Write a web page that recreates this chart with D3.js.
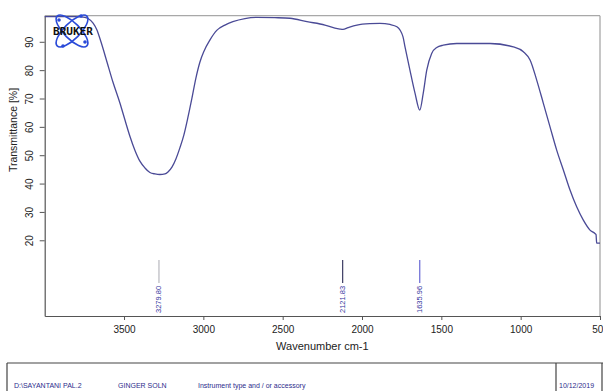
<!DOCTYPE html>
<html>
<head>
<meta charset="utf-8">
<script src="https://cdn.jsdelivr.net/npm/d3@7"></script>
<style>
  html, body { margin: 0; padding: 0; background: #fff; }
  svg { display: block; font-family: "Liberation Sans", Arial, sans-serif; }
</style>
</head>
<body>
<svg id="chart" width="603" height="391"></svg>
<script>
// ---- data ----
const wavenumbers = [4000,3903,3809,3758,3727,3695,3670,3645,3607,3570,3526,3494,3463,3431,3400,3368,3337,3305,3274,3242,3223,3198,3173,3148,3123,3097,3072,3047,3022,2996,2959,2914,2864,2814,2738,2663,2549,2454,2347,2234,2171,2139,2120,2088,2032,1950,1887,1824,1780,1742,1729,1698,1666,1636,1614,1592,1561,1529,1488,1403,1193,1046,983,940,899,857,815,773,731,689,647,605,563,532,525,521,500];
const transmittance = [98.9,98.9,98.9,98.7,98.2,96.6,94.1,89.9,82.8,75.8,68.4,62.4,56.7,51.7,47.9,45.5,43.9,43.4,43.2,43.4,44.1,45.8,48.7,52.6,57.1,63.4,70.1,77.2,82.8,86.7,90.6,94.1,95.9,97.1,98.2,98.6,98.5,98.3,97.1,95.9,94.8,94.5,94.4,95.0,95.9,96.4,96.5,96.1,95.3,91.8,88.2,80.0,71.9,65.9,71.9,80.0,85.9,88.0,88.8,89.4,89.4,88.2,86.5,83.5,76.5,68.3,60.0,51.8,44.8,37.7,31.8,27.1,23.6,22.4,22.0,19.0,19.0];
const xTicks = [3500,3000,2500,2000,1500,1000,500];
const yTicks = [20,30,40,50,60,70,80,90];
const peakPositions = [3279.80, 2121.83, 1635.96];
const peakLabels = ["3279.80", "2121.83", "1635.96"];
const peakLineColors = ["#b0b0b8", "#2a2a55", "#5a5ad0"];
const xDomain = [4000, 500];
const yDomain = [-6.7, 99.2];
const footerTexts = ["D:\\SAYANTANI PAL.2", "GINGER SOLN", "Instrument type and / or accessory", "10/12/2019"];

// ---- layout ----
const svg = d3.select("#chart");
const plot = { left: 44.7, right: 600, top: 15.7, bottom: 316 };
const x = d3.scaleLinear().domain(xDomain).range([plot.left, plot.right]);
const y = d3.scaleLinear().domain(yDomain).range([plot.bottom, plot.top]);

// frame: top & right light gray
svg.append("line").attr("x1", plot.left).attr("x2", plot.right).attr("y1", plot.top).attr("y2", plot.top)
  .attr("stroke", "#a8a8a8").attr("stroke-width", 1.3);
svg.append("line").attr("x1", plot.right).attr("x2", plot.right).attr("y1", plot.top).attr("y2", plot.bottom)
  .attr("stroke", "#a8a8a8").attr("stroke-width", 1.3);

// x axis
const xAxis = d3.axisBottom(x).tickValues(xTicks).tickSize(4).tickSizeOuter(0).tickPadding(6).tickFormat(d3.format("d"));
const gx = svg.append("g").attr("transform", `translate(0,${plot.bottom})`).call(xAxis);
gx.select(".domain").attr("stroke", "#555").attr("stroke-width", 1.2);
gx.selectAll(".tick line").attr("stroke", "#555");
gx.selectAll(".tick text").attr("font-size", 10).attr("fill", "#222")
  .attr("font-family", "Liberation Sans, Arial, sans-serif");

// y axis
const yAxis = d3.axisLeft(y).tickValues(yTicks).tickSize(5).tickSizeOuter(0).tickFormat(d3.format("d"));
const gy = svg.append("g").attr("transform", `translate(${plot.left},0)`).call(yAxis);
gy.select(".domain").attr("stroke", "#555").attr("stroke-width", 1.2);
gy.selectAll(".tick line").attr("stroke", "#555");
gy.selectAll(".tick text")
  .attr("font-size", 10).attr("fill", "#222")
  .attr("font-family", "Liberation Sans, Arial, sans-serif")
  .attr("x", 0).attr("dy", null)
  .attr("text-anchor", "middle")
  .attr("dominant-baseline", "central")
  .attr("transform", "translate(-15,0) rotate(-90)");

// axis titles
svg.append("text").attr("x", (plot.left + plot.right) / 2).attr("y", 350)
  .attr("text-anchor", "middle").attr("font-size", 11).attr("fill", "#222")
  .text("Wavenumber cm-1");
svg.append("text").attr("transform", "translate(13,130) rotate(-90)")
  .attr("text-anchor", "middle").attr("dominant-baseline", "central")
  .attr("font-size", 10.5).attr("fill", "#222")
  .text("Transmittance [%]");

// spectrum line
const data = wavenumbers.map((w, i) => ({ w, t: transmittance[i] }));
const line = d3.line().x(d => x(d.w)).y(d => y(d.t)).curve(d3.curveMonotoneX);
svg.append("path").datum(data).attr("d", line)
  .attr("fill", "none").attr("stroke", "#4a4a96").attr("stroke-width", 1.3);

// peak markers
const peaks = peakPositions.map((p, i) => ({ p, label: peakLabels[i], color: peakLineColors[i] }));
const pg = svg.append("g");
pg.selectAll("line").data(peaks).join("line")
  .attr("x1", d => x(d.p)).attr("x2", d => x(d.p))
  .attr("y1", 260).attr("y2", 283)
  .attr("stroke", d => d.color).attr("stroke-width", 1.1);
pg.selectAll("text").data(peaks).join("text")
  .attr("transform", d => `translate(${x(d.p)},313) rotate(-90)`)
  .attr("text-anchor", "start").attr("dominant-baseline", "central")
  .attr("font-size", 7.5).attr("fill", "#3636a0")
  .text(d => d.label);

// BRUKER logo
const logo = svg.append("g").attr("transform", "translate(72,31)");
[45, -45].forEach(a => {
  logo.append("ellipse").attr("cx", 0).attr("cy", 0).attr("rx", 21).attr("ry", 8)
    .attr("transform", `rotate(${a})`)
    .attr("fill", "none").attr("stroke", "#2a4ad8").attr("stroke-width", 1.6);
});
[[-13, -11], [13, 11], [-9, 15], [9, -15]].forEach(([cx, cy]) => {
  logo.append("circle").attr("cx", cx).attr("cy", cy).attr("r", 1.8).attr("fill", "#2a4ad8");
});
logo.append("text").attr("x", -19).attr("y", 4)
  .attr("font-size", 10.5).attr("font-weight", "bold").attr("fill", "#111")
  .attr("font-family", "DejaVu Sans Mono, monospace")
  .attr("textLength", 40).attr("lengthAdjust", "spacingAndGlyphs")
  .text("BRUKER");

// footer box
svg.append("line").attr("x1", 7).attr("x2", 603).attr("y1", 363).attr("y2", 363)
  .attr("stroke", "#444").attr("stroke-width", 1.2);
svg.append("line").attr("x1", 7).attr("x2", 7).attr("y1", 363).attr("y2", 391)
  .attr("stroke", "#444").attr("stroke-width", 1.2);
svg.append("line").attr("x1", 556).attr("x2", 556).attr("y1", 363).attr("y2", 391)
  .attr("stroke", "#444").attr("stroke-width", 1.2);
svg.append("line").attr("x1", 602).attr("x2", 602).attr("y1", 363).attr("y2", 391)
  .attr("stroke", "#444").attr("stroke-width", 1.2);
const footerX = [14, 118, 198, 559];
svg.append("g").selectAll("text").data(footerTexts).join("text")
  .attr("x", (d, i) => footerX[i]).attr("y", 388)
  .attr("font-size", 7).attr("fill", "#2c2c8c")
  .text(d => d);
</script>
</body>
</html>
